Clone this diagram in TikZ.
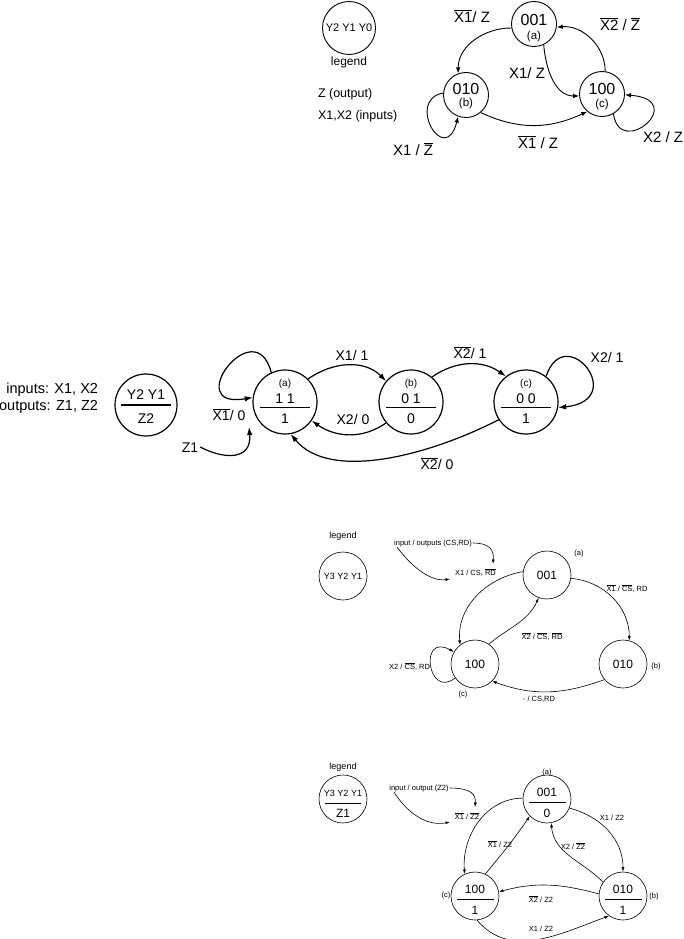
\documentclass[tikz,border=0pt]{standalone}
\usepackage{fontspec}
\setmainfont{Liberation Sans}
\usetikzlibrary{arrows.meta}
\newcommand\fsz[1]{\fontsize{#1}{#1}\selectfont}
\newcommand\ovl[1]{\ensuremath{\overline{\mbox{#1}}}}
\begin{document}
\begin{tikzpicture}[x=1pt,y=1pt,
  txt/.style={inner sep=0pt, outer sep=0pt},
  sA/.style={draw, circle, line width=0.9pt, minimum size=45pt, inner sep=0pt},
  eA/.style={line width=0.9pt, -{Latex[length=6pt,width=4.5pt]}},
  vA/.style={txt, font=\fsz{16}, text height=11.5pt, text depth=0pt},
  nA/.style={txt, font=\fsz{11.5}, text height=8pt, text depth=0pt},
  lA/.style={txt, font=\fsz{15}, text height=10.8pt, text depth=0pt},
  sB/.style={draw, circle, line width=1.2pt, minimum size=64pt, inner sep=0pt},
  eB/.style={line width=1.2pt, -{Latex[length=8pt,width=5.5pt]}},
  vB/.style={txt, font=\fsz{14}, text height=10pt, text depth=0pt},
  nB/.style={txt, font=\fsz{10}, text height=7pt, text depth=0pt},
  barB/.style={line width=1.4pt},
  sC/.style={draw, circle, line width=0.6pt, minimum size=48pt, inner sep=0pt},
  eC/.style={line width=0.6pt, -{Latex[length=4.5pt,width=3pt]}},
  vC/.style={txt, font=\fsz{12}, text height=8.6pt, text depth=0pt},
  sm/.style={txt, font=\fsz{7.5}, text height=5.4pt, text depth=0pt},
  gC/.style={txt, font=\fsz{9}},
  barC/.style={line width=0.6pt},
]
\useasboundingbox (0,0) rectangle (683,-939);
\fill[white] (0,0) rectangle (683,-939);

% ---------------- diagram 1 ----------------
\node[sA, minimum size=53pt] (leg1) at (349,-28) {};
\node[txt, font=\fsz{11}] (leg1t) at (349,-28) {Y2 Y1 Y0};
\node[txt, font=\fsz{12}] (leg1l) at (349,-62) {legend};
\node[txt, anchor=west, font=\fsz{12.5}, text height=9pt, text depth=0pt] (zout) at (318,-93) {Z (output)};
\node[txt, anchor=west, font=\fsz{12.5}, text height=9pt, text depth=0pt] (xin) at (318,-115) {X1,X2 (inputs)};

\node[sA] (a1) at (534,-24) {};
\node[vA] (a1v) at (534,-20) {001};
\node[nA] (a1n) at (534,-35.5) {(a)};
\node[sA] (b1) at (466,-95) {};
\node[vA] (b1v) at (466,-88.5) {010};
\node[nA] (b1n) at (466,-102.5) {(b)};
\node[sA] (c1) at (602,-94) {};
\node[vA] (c1v) at (602,-88.5) {100};
\node[nA] (c1n) at (602,-103.5) {(c)};

\draw[eA] (a1.190) to[out=180,in=90] (b1.110);
\draw[eA] (a1.-65) to[out=-85,in=180] (c1.185);
\draw[eA] (c1.82) to[out=90,in=5] (a1.-8);
\draw[eA] (b1.-50) to[out=-25,in=205] (c1.230);
\draw[eA] (b1.175) .. controls (405,-100) and (445,-168) .. (b1.250);
\draw[eA] (c1.-60) .. controls (620,-160) and (690,-100) .. (c1.-2);

\node[lA] (l1a) at (472,-17) {\ovl{X1}/ Z};
\node[lA] (l1b) at (527,-73) {X1/ Z};
\node[lA] (l1c) at (620,-25) {\ovl{X2} / \ovl{Z}};
\node[lA] (l1d) at (538,-143) {\ovl{X1} / Z};
\node[lA] (l1e) at (413,-150) {X1 / \ovl{Z}};
\node[lA] (l1f) at (663,-137) {X2 / Z};

% ---------------- diagram 2 ----------------
\node[txt, anchor=east, font=\fsz{14.5}, text height=10.4pt, text depth=0pt] (inp) at (98,-388) {inputs: X1, X2};
\node[txt, anchor=east, font=\fsz{14.5}, text height=10.4pt, text depth=0pt] (outp) at (98,-405.5) {outputs: Z1, Z2};
\node[sB, minimum size=62pt] (leg2) at (146,-405) {};
\node[vB] (leg2t) at (146,-394) {Y2 Y1};
\draw[barB] ([xshift=-25pt]leg2.center) -- ([xshift=25pt]leg2.center);
\node[vB] (leg2z) at (146,-418) {Z2};

\node[sB] (a2) at (285,-402) {};
\node[nB] (a2n) at (285,-382.5) {(a)};
\node[vB] (a2v) at (285,-398) {1 1};
\draw[barB] ([xshift=-25pt,yshift=-5.5pt]a2.center) -- ([xshift=25pt,yshift=-5.5pt]a2.center);
\node[vB] (a2o) at (285,-418.5) {1};

\node[sB] (b2) at (411,-402) {};
\node[nB] (b2n) at (411,-382.5) {(b)};
\node[vB] (b2v) at (411,-398) {0 1};
\draw[barB] ([xshift=-25pt,yshift=-5.5pt]b2.center) -- ([xshift=25pt,yshift=-5.5pt]b2.center);
\node[vB] (b2o) at (411,-418.5) {0};

\node[sB] (c2) at (526,-402) {};
\node[nB] (c2n) at (526,-382.5) {(c)};
\node[vB] (c2v) at (526,-398) {0 0};
\draw[barB] ([xshift=-25pt,yshift=-5.5pt]c2.center) -- ([xshift=25pt,yshift=-5.5pt]c2.center);
\node[vB] (c2o) at (526,-418.5) {1};

\draw[eB] (a2.115) .. controls (255,-310) and (180,-410) .. (a2.172);
\node[vB] (l2a) at (229,-415) {\ovl{X1}/ 0};
\node[vB] (z1) at (190,-447) {Z1};
\coordinate (z1tip) at (249,-427);
\draw[eB] ([xshift=2pt]z1.east) .. controls (225,-460) and (252,-460) .. (z1tip);

\draw[eB] (a2.45) to[out=35,in=135] (b2.140);
\draw[eB] (b2.220) to[out=-145,in=-35] (a2.-35);
\draw[eB] (b2.50) to[out=35,in=145] (c2.128);
\draw[eB] (c2.52) .. controls (565,-320) and (630,-400) .. (c2.-10);
\draw[eB] (c2.213) .. controls (430,-455) and (330,-482) .. (a2.-80);

\node[vB] (l2b) at (352,-355) {X1/ 1};
\node[vB] (l2c) at (353,-419) {X2/ 0};
\node[vB] (l2d) at (470,-353) {\ovl{X2}/ 1};
\node[vB] (l2e) at (607,-357) {X2/ 1};
\node[vB] (l2f) at (437,-464) {\ovl{X2}/ 0};

% ---------------- diagram 3 ----------------
\node[gC] (leg3l) at (343,-536) {legend};
\node[sC] (leg3) at (343,-576) {};
\node[gC] (leg3t) at (343,-576) {Y3 Y2 Y1};

\node[sC] (a3) at (547,-575) {};
\node[vC] (a3v) at (547,-575) {001};
\node[sC] (c3) at (475,-664) {};
\node[vC] (c3v) at (475,-664) {100};
\node[sC] (b3) at (623,-664) {};
\node[vC] (b3v) at (623,-664) {010};
\node[sm] (a3n) at (579,-553) {(a)};
\node[sm] (b3n) at (656,-666) {(b)};
\node[sm] (c3n) at (463,-694) {(c)};

\draw[eC] (a3.172) to[out=190,in=95] (c3.128);
\draw[eC] (c3.55) to[out=40,in=-115] (a3.250);
\draw[eC] (a3.-8) to[out=-5,in=90] (b3.75);
\draw[eC] (c3.215) .. controls (428,-700) and (418,-632) .. (c3.150);
\draw[eC] (b3.220) to[out=-160,in=-20] (c3.-45);

\node[sm] (io3) at (433,-543) {input / outputs (CS,RD)};
\coordinate (io3s) at (397,-547);
\coordinate (io3t) at (493,-564);
\coordinate (io3u) at (450,-579);
\draw[eC] ([xshift=1pt]io3.east) .. controls (490,-543) and (494,-550) .. (io3t);
\draw[eC] (io3s) .. controls (410,-565) and (430,-582) .. (io3u);

\node[sm, anchor=west] (l3a) at (455,-573) {X1 / CS, \ovl{RD}};
\node[sm] (l3b) at (627,-589) {\ovl{X1} / \ovl{CS}, RD};
\node[sm] (l3c) at (542,-637) {\ovl{X2} / \ovl{CS}, \ovl{RD}};
\node[sm, anchor=east] (l3d) at (430,-667) {X2 / \ovl{CS}, RD};
\node[sm] (l3e) at (539,-699) {- / CS,RD};

% ---------------- diagram 4 ----------------
\node[gC] (leg4l) at (343,-767) {legend};
\node[sC] (leg4) at (343,-799) {};
\node[gC] (leg4t) at (343,-793) {Y3 Y2 Y1};
\draw[barC] (325,-803) -- (361,-803);
\node[vC] (leg4z) at (343,-813) {Z1};

\node[sC] (a4) at (547,-799) {};
\node[vC] (a4v) at (547,-792) {001};
\draw[barC] (529,-802.5) -- (566,-802.5);
\node[vC] (a4o) at (547,-813) {0};
\node[sm] (a4n) at (547,-772) {(a)};

\node[sC] (c4) at (475,-896) {};
\node[vC] (c4v) at (475,-889) {100};
\draw[barC] (457,-899.5) -- (494,-899.5);
\node[vC] (c4o) at (475,-910) {1};
\node[sm] (c4n) at (446,-895) {(c)};

\node[sC] (b4) at (623,-896) {};
\node[vC] (b4v) at (623,-889) {010};
\draw[barC] (605,-899.5) -- (642,-899.5);
\node[vC] (b4o) at (623,-910) {1};
\node[sm] (b4n) at (654,-896) {(b)};

\draw[eC] (a4.178) to[out=180,in=95] (c4.115);
\draw[eC] (c4.65) to[out=50,in=-125] (a4.225);
\draw[eC] (a4.-22) to[out=-15,in=90] (b4.90);
\draw[eC] (b4.145) to[out=135,in=-85] (a4.-80);
\draw[eC] (b4.175) to[out=165,in=15] (c4.10);
\draw[eC] (c4.-85) to[out=-50,in=200] (b4.235);

\node[sm] (io4) at (419,-788) {input / output (Z2)};
\coordinate (io4s) at (394,-792);
\coordinate (io4t) at (475,-807);
\coordinate (io4u) at (450,-822);
\draw[eC] ([xshift=1pt]io4.east) .. controls (472,-788) and (476,-795) .. (io4t);
\draw[eC] (io4s) .. controls (405,-810) and (425,-827) .. (io4u);

\node[sm] (l4a) at (467,-817) {\ovl{X1} / \ovl{Z2}};
\node[sm] (l4b) at (500,-845) {\ovl{X1} / Z2};
\node[sm] (l4c) at (612,-818) {X1 / Z2};
\node[sm] (l4d) at (573,-847) {X2 / \ovl{Z2}};
\node[sm] (l4e) at (541,-900) {\ovl{X2} / Z2};
\node[sm] (l4f) at (541,-929) {X1 / Z2};
\end{tikzpicture}
\end{document}
